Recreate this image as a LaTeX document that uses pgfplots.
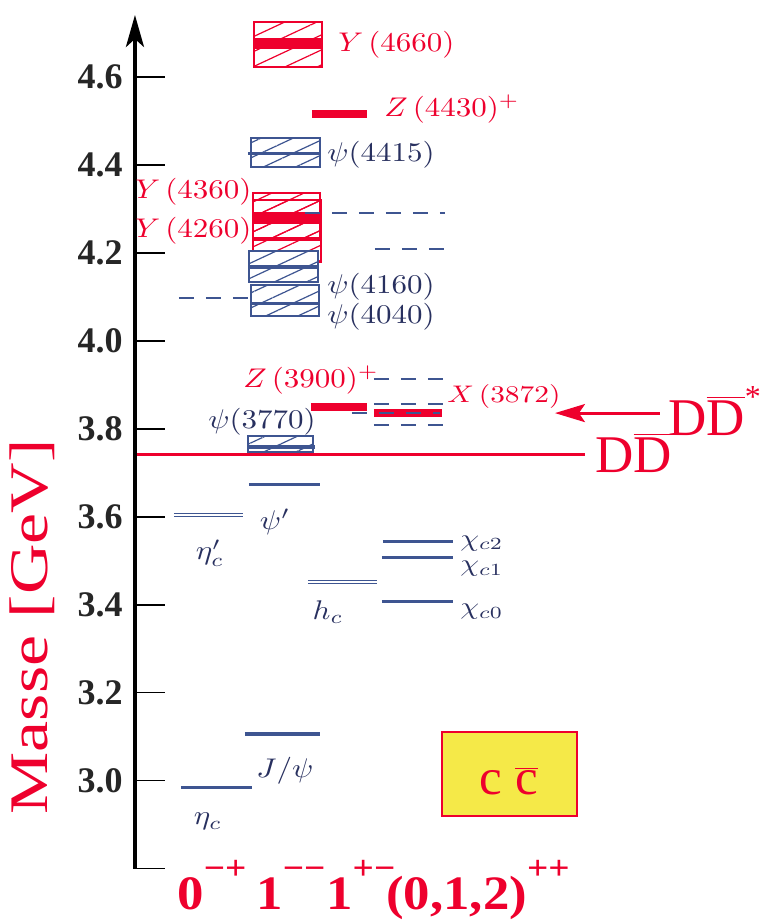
\RequirePackage{fix-cm}
\documentclass[border=0pt]{standalone}
\usepackage{pgfplots}
\pgfplotsset{compat=1.18}
\usetikzlibrary{arrows.meta,patterns.meta}
\usepackage{graphicx}
\usepackage{fontspec}
\newfontfamily\tnr{Liberation Serif}
\definecolor{cred}{RGB}{238,0,45}
\definecolor{cblue}{RGB}{62,85,145}
\definecolor{cnavy}{RGB}{40,48,95}
\definecolor{cyel}{RGB}{245,233,72}
\newcommand{\ml}[1]{\scalebox{1.55}[1.35]{$#1$}}
\newcommand{\mc}[1]{\scalebox{1.5}[1.22]{$#1$}}
\newcommand{\bl}[2]{\scalebox{1.1}[1]{\tnr\bfseries\fontsize{24}{26}\selectfont #1\raisebox{15pt}{\fontsize{17}{17}\selectfont #2}}}
\tikzset{
  redbox/.style={draw=cred, line width=0.75pt, pattern={Lines[angle=25,distance=6.8pt,line width=0.6pt]}, pattern color=cred},
  bluebox/.style={draw=cblue, line width=0.75pt, preaction={fill=white}, pattern={Lines[angle=25,distance=6.8pt,line width=0.6pt]}, pattern color=cblue},
  dsh/.style={cblue, line width=0.75pt, dash pattern=on 7.5pt off 6pt},
}
\begin{document}
\begin{tikzpicture}
\begin{axis}[
  scale only axis, width=312pt, height=427.02pt,
  xmin=135, xmax=759, ymin=2.8, ymax=4.741,
  axis x line=none, axis y line=left,
  y axis line style={line width=2pt, -{Stealth[length=16pt,width=9pt,inset=4pt]}},
  ytick={2.8,3.0,3.2,3.4,3.6,3.8,4.0,4.2,4.4,4.6},
  yticklabels={{},3.0,3.2,3.4,3.6,3.8,4.0,4.2,4.4,4.6},
  tick align=inside, major tick length=15pt,
  ytick style={black, line width=0.6pt},
  yticklabel style={font=\tnr\bfseries\fontsize{18}{20}\selectfont, text=black!85, inner sep=0pt, xshift=-6pt},
  clip=false,
]
% invisible frame for the picture size
\path (axis cs:0,4.775) rectangle (axis cs:759,2.684);

% ---- red hatched states ----
\addplot[redbox] coordinates {(254,4.623) (322,4.623) (322,4.725) (254,4.725)} --cycle;
\addplot[cred, line width=5.5pt] coordinates {(254,4.675) (322,4.675)};
\addplot[redbox] coordinates {(253,4.180) (321,4.180) (321,4.320) (253,4.320)} --cycle;
\addplot[redbox] coordinates {(253,4.230) (320,4.230) (320,4.336) (253,4.336)} --cycle;
\addplot[cred, line width=6pt] coordinates {(253,4.280) (321,4.280)};
\addplot[cred, line width=2pt] coordinates {(253,4.232) (321,4.232)};

% ---- blue hatched states ----
\addplot[bluebox] coordinates {(251,4.395) (320,4.395) (320,4.461) (251,4.461)} --cycle;
\addplot[cblue, line width=1.5pt] coordinates {(248,4.425) (320,4.425)};
\addplot[bluebox] coordinates {(249,4.134) (318,4.134) (318,4.205) (249,4.205)} --cycle;
\addplot[cblue, line width=2pt] coordinates {(249,4.168) (319,4.168)};
\addplot[bluebox] coordinates {(251,4.057) (319,4.057) (319,4.127) (251,4.127)} --cycle;
\addplot[cblue, line width=1.5pt] coordinates {(251,4.086) (319,4.086)};
\addplot[bluebox] coordinates {(248,3.748) (313,3.748) (313,3.784) (248,3.784)} --cycle;
\addplot[cblue, line width=2pt] coordinates {(248,3.759) (315,3.759)};

% ---- red bars ----
\addplot[cred, line width=4pt] coordinates {(312,4.516) (367,4.516)};
\addplot[cred, line width=4pt] coordinates {(311,3.850) (367,3.850)};
\addplot[cred, line width=4pt] coordinates {(374,3.836) (442,3.836)};
\addplot[cred, line width=1.5pt] coordinates {(137,3.743) (585,3.743)};

% ---- dashed thresholds ----
\addplot[dsh] coordinates {(305,4.291) (445,4.291)};
\addplot[dsh] coordinates {(375,4.209) (445,4.209)};
\addplot[dsh] coordinates {(179,4.098) (250,4.098)};
\addplot[dsh] coordinates {(374,3.914) (445,3.914)};
\addplot[dsh] coordinates {(374,3.857) (445,3.857)};
\addplot[dsh] coordinates {(352,3.836) (440,3.836)};
\addplot[dsh] coordinates {(374,3.809) (445,3.809)};

% ---- blue levels ----
\addplot[cblue, line width=1.5pt] coordinates {(181,2.986) (252,2.986)};
\addplot[cblue, line width=2pt] coordinates {(245,3.107) (320,3.107)};
\addplot[cblue, line width=0.6pt, double=white, double distance=1pt] coordinates {(174,3.605) (243,3.605)};
\addplot[cblue, line width=1.5pt] coordinates {(249,3.673) (320,3.673)};
\addplot[cblue, line width=0.6pt, double=white, double distance=1pt] coordinates {(308,3.452) (377,3.452)};
\addplot[cblue, line width=1.5pt] coordinates {(383,3.545) (453,3.545)};
\addplot[cblue, line width=1.5pt] coordinates {(382,3.507) (453,3.507)};
\addplot[cblue, line width=1.5pt] coordinates {(382,3.407) (453,3.407)};

% ---- labels (red) ----
\node[anchor=base west, inner sep=0pt, text=cred] at (axis cs:338,4.659) {\ml{Y\,(4660)}};
\node[anchor=base west, inner sep=0pt, text=cred] at (axis cs:384,4.511) {\ml{Z\,(4430)^+}};
\node[anchor=base east, inner sep=0pt, text=cred] at (axis cs:252,4.323) {\ml{Y\,(4360)}};
\node[anchor=base east, inner sep=0pt, text=cred] at (axis cs:252,4.236) {\ml{Y\,(4260)}};
\node[anchor=base west, inner sep=0pt, text=cred] at (axis cs:243,3.895) {\ml{Z\,(3900)^+}};
\node[anchor=base west, inner sep=0pt, text=cred] at (axis cs:447,3.861) {\scalebox{1.47}[1.2]{$X\,(3872)$}};

% ---- labels (blue) ----
\node[anchor=base west, inner sep=0pt, text=cnavy] at (axis cs:327,4.409) {\ml{\psi(4415)}};
\node[anchor=base west, inner sep=0pt, text=cnavy] at (axis cs:327,4.107) {\ml{\psi(4160)}};
\node[anchor=base west, inner sep=0pt, text=cnavy] at (axis cs:327,4.039) {\ml{\psi(4040)}};
\node[anchor=base, inner sep=0pt, text=cnavy] at (axis cs:262,3.802) {\ml{\psi(3770)}};
\node[inner sep=0pt, text=cnavy] at (axis cs:275,3.589) {\ml{\psi'}};
\node[inner sep=0pt, text=cnavy] at (axis cs:210,3.518) {\ml{\eta_c'}};
\node[inner sep=0pt, text=cnavy] at (axis cs:208,2.907) {\ml{\eta_c}};
\node[inner sep=0pt, text=cnavy] at (axis cs:285,3.023) {\ml{J/\psi}};
\node[inner sep=0pt, text=cnavy] at (axis cs:328,3.384) {\ml{h_c}};
\node[anchor=west, inner sep=0pt, text=cnavy] at (axis cs:460,3.540) {\mc{\chi_{c2}}};
\node[anchor=west, inner sep=0pt, text=cnavy] at (axis cs:460,3.482) {\mc{\chi_{c1}}};
\node[anchor=west, inner sep=0pt, text=cnavy] at (axis cs:460,3.384) {\mc{\chi_{c0}}};

% ---- thresholds text ----
\node[anchor=base west, inner sep=0pt, text=cred] at (axis cs:595,3.702) {\tnr\fontsize{26.5}{30}\selectfont D$\overline{\mbox{D}}$};
\node[anchor=base west, inner sep=0pt, text=cred] at (axis cs:668,3.786) {\tnr\fontsize{26.5}{30}\selectfont D$\overline{\mbox{D}}$\raisebox{14pt}{\fontsize{16}{16}\selectfont *}};
\draw[cred, line width=1.5pt, -{Stealth[length=15pt,width=9pt,inset=3pt]}] (axis cs:660,3.836) -- (axis cs:555,3.836);

% ---- c cbar box ----
\draw[cred, line width=0.75pt, fill=cyel] (axis cs:442,2.920) rectangle (axis cs:577,3.111);
\node[anchor=base, inner sep=0pt, text=cred] at (axis cs:509,2.968) {\tnr\fontsize{25.5}{28}\selectfont c $\overline{\mbox{c}}$};

% ---- axis label ----
\node[rotate=90, inner sep=0pt, text=cred] at (axis cs:32,3.35) {\resizebox*{187.5pt}{22.5pt}{\tnr Masse [GeV]}};

% ---- quantum numbers ----
\node[anchor=base west, inner sep=0pt, text=cred] at (axis cs:177,2.707) {\bl{0}{−+}};
\node[anchor=base west, inner sep=0pt, text=cred] at (axis cs:256,2.707) {\bl{1}{−−}};
\node[anchor=base west, inner sep=0pt, text=cred] at (axis cs:326,2.707) {\bl{1}{+−}};
\node[anchor=base west, inner sep=0pt, text=cred] at (axis cs:386,2.707) {\bl{(0,1,2)}{++}};
\end{axis}
\end{tikzpicture}
\end{document}
